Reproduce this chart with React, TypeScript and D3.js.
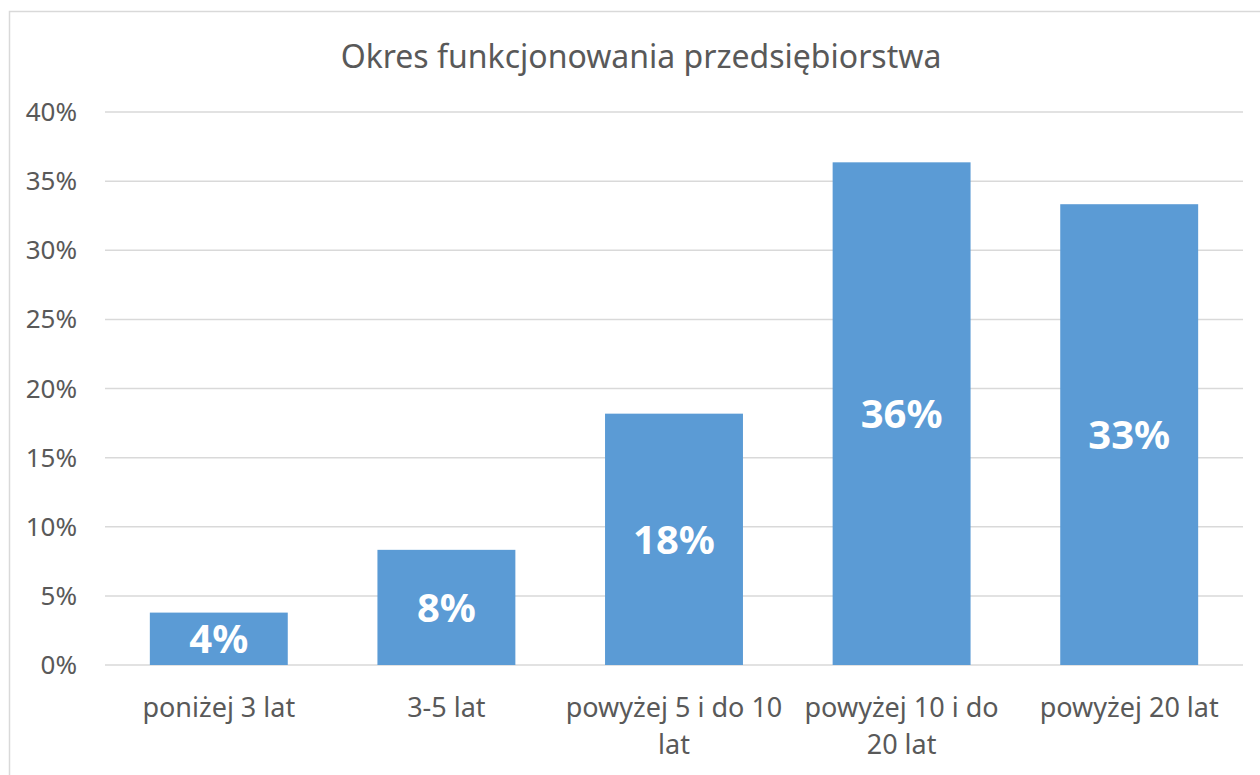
import React, { useRef, useEffect } from "react";
import * as d3 from "d3";

const title = "Okres funkcjonowania przedsiębiorstwa";
const categories = [
  "poniżej 3 lat",
  "3-5 lat",
  "powyżej 5 i do 10 lat",
  "powyżej 10 i do 20 lat",
  "powyżej 20 lat",
];
const shares = [0.0379, 0.0833, 0.1818, 0.3636, 0.3333];
const yTicks = [0, 0.05, 0.1, 0.15, 0.2, 0.25, 0.3, 0.35, 0.4];

const W = 1260;
const H = 775;
const font = "'Noto Sans', 'Open Sans', sans-serif";

const wrap = (sel: any, width: number) => {
  sel.each(function (this: SVGTextElement) {
    const text = d3.select(this);
    const words = text.text().split(/\s+/);
    const x = text.attr("x");
    const y = text.attr("y");
    text.text(null);
    let line: string[] = [];
    let lineNo = 0;
    let tspan = text.append("tspan").attr("x", x).attr("y", y);
    words.forEach((w) => {
      line.push(w);
      tspan.text(line.join(" "));
      if ((tspan.node() as SVGTSpanElement).getComputedTextLength() > width && line.length > 1) {
        line.pop();
        tspan.text(line.join(" "));
        line = [w];
        lineNo++;
        tspan = text
          .append("tspan")
          .attr("x", x)
          .attr("y", +y! + lineNo * 37)
          .text(w);
      }
    });
  });
};

const App = () => {
  const svgRef = useRef<SVGSVGElement>(null);

  useEffect(() => {
    document.body.style.margin = "0";
    const svg = d3.select(svgRef.current);
    svg.selectAll("*").remove();

    const margin = { top: 112, right: 17, bottom: 110, left: 105 };
    const x = d3
      .scaleBand()
      .domain(categories)
      .range([margin.left, W - margin.right])
      .paddingInner(0.394)
      .paddingOuter(0.197);
    const y = d3
      .scaleLinear()
      .domain([0, 0.4])
      .range([H - margin.bottom, margin.top]);

    // chart border
    svg
      .append("rect")
      .attr("x", 9.5)
      .attr("y", 11.5)
      .attr("width", W + 20)
      .attr("height", H + 20)
      .attr("fill", "white")
      .attr("stroke", "#d9d9d9")
      .attr("stroke-width", 1.5);

    // gridlines
    svg
      .append("g")
      .selectAll("line")
      .data(yTicks)
      .join("line")
      .attr("x1", margin.left)
      .attr("x2", W - margin.right)
      .attr("y1", (d) => y(d))
      .attr("y2", (d) => y(d))
      .attr("stroke", "#d9d9d9")
      .attr("stroke-width", 1.5);

    // y tick labels
    svg
      .append("g")
      .selectAll("text")
      .data(yTicks)
      .join("text")
      .attr("x", 77)
      .attr("y", (d) => y(d))
      .attr("dy", "0.35em")
      .attr("text-anchor", "end")
      .attr("font-family", font)
      .attr("font-size", 26)
      .attr("fill", "#595959")
      .text((d) => d3.format(".0%")(d));

    // bars
    svg
      .append("g")
      .selectAll("rect")
      .data(shares)
      .join("rect")
      .attr("x", (_, i) => x(categories[i])!)
      .attr("width", x.bandwidth())
      .attr("y", (d) => y(d))
      .attr("height", (d) => y(0) - y(d))
      .attr("fill", "#5b9bd5");

    // value labels
    svg
      .append("g")
      .selectAll("text")
      .data(shares)
      .join("text")
      .attr("x", (_, i) => x(categories[i])! + x.bandwidth() / 2)
      .attr("y", (d) => (y(d) + y(0)) / 2)
      .attr("dy", "0.36em")
      .attr("text-anchor", "middle")
      .attr("font-family", font)
      .attr("font-weight", "bold")
      .attr("font-size", 40)
      .attr("fill", "white")
      .text((d) => d3.format(".0%")(d));

    // category labels
    svg
      .append("g")
      .selectAll("text")
      .data(categories)
      .join("text")
      .attr("x", (d) => x(d)! + x.bandwidth() / 2)
      .attr("y", 717)
      .attr("text-anchor", "middle")
      .attr("font-family", font)
      .attr("font-size", 27)
      .attr("fill", "#595959")
      .text((d) => d)
      .call(wrap, x.step() - 4);

    // title
    svg
      .append("text")
      .attr("x", 641)
      .attr("y", 68)
      .attr("text-anchor", "middle")
      .attr("font-family", font)
      .attr("font-size", 32)
      .attr("fill", "#595959")
      .text(title);
  }, []);

  return <svg ref={svgRef} width={W} height={H} style={{ display: "block" }} />;
};

export default App;
